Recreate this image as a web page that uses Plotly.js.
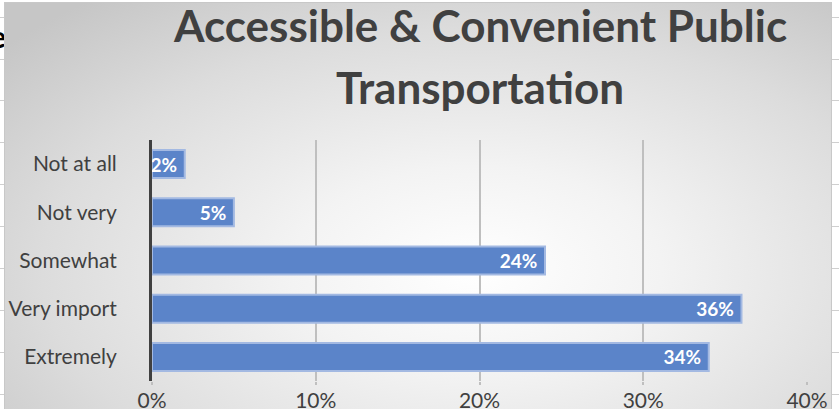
<!DOCTYPE html>
<html>
<head>
<meta charset="utf-8">
<script src="https://cdn.plot.ly/plotly-3.0.1.min.js"></script>
<style>
  html, body { margin: 0; padding: 0; background: #ffffff; }
  #wrap { position: relative; width: 839px; height: 409px; overflow: hidden; background: #ffffff; }
  #panel { position: absolute; left: 4px; top: 2px; width: 826px; height: 430px;
           border: 1px solid #c8c8c8;
           background: radial-gradient(ellipse 75% 80% at 57% 62%, #ffffff 0%, #f3f3f3 30%, #dcdcdc 70%, #c6c6c6 100%); }
  .hl { position: absolute; height: 1px; background: #cfcfcf; }
  #chart { position: absolute; left: 0; top: 0; width: 839px; height: 409px; }
  #cut { position: absolute; left: -10px; top: 18px; font-family: Lato, sans-serif; font-weight: bold; font-size: 30px; color: #000; }
</style>
</head>
<body>
<div id="wrap">
  <span id="cut">e</span>
  <div id="panel"></div>
  <div id="chart"></div>
</div>
<script>
const categories = ["Not at all", "Not very", "Somewhat", "Very import", "Extremely"];
const shares = [0.02, 0.05, 0.24, 0.36, 0.34];
const xTickVals = [0, 0.1, 0.2, 0.3, 0.4];
const xTickText = ["0%", "10%", "20%", "30%", "40%"];
const titleLines = ["Accessible & Convenient Public", "Transportation"];

// spreadsheet row lines outside the chart panel
const wrap = document.getElementById('wrap');
[17, 59, 100, 142, 184, 226, 268, 310, 352, 394].forEach(function (y) {
  [[0, 4], [831, 8]].forEach(function (p) {
    const d = document.createElement('div');
    d.className = 'hl';
    d.style.left = p[0] + 'px'; d.style.width = p[1] + 'px'; d.style.top = y + 'px';
    wrap.insertBefore(d, document.getElementById('panel'));
  });
});

const L = 152, R = 32, T = 140, B = 28, W = 839, H = 409;
const pw = W - L - R, ph = H - T - B;
function py(y) { return (H - B - y) / ph; }

const trace = {
  type: 'bar',
  orientation: 'h',
  y: categories,
  x: shares,
  width: 0.58,
  marker: { color: '#5b84c9', line: { color: '#a3b9e2', width: 2 } },
  texttemplate: '%{x:.0%} ',
  textposition: 'inside',
  insidetextanchor: 'end',
  constraintext: 'none',
  textfont: { family: 'Lato, sans-serif', size: 19, color: '#ffffff', weight: 'bold' },
  hoverinfo: 'skip',
  cliponaxis: false
};

const layout = {
  width: W, height: H,
  margin: { l: L, r: R, t: T, b: B, pad: 0 },
  paper_bgcolor: 'rgba(0,0,0,0)',
  plot_bgcolor: 'rgba(0,0,0,0)',
  showlegend: false,
  font: { family: 'Lato, sans-serif', color: '#404040' },
  xaxis: {
    range: [0, 0.4],
    tickvals: xTickVals, ticktext: xTickText,
    showgrid: true, gridcolor: '#bfbfbf', gridwidth: 2,
    zeroline: false, showline: false,
    ticks: 'outside', ticklen: 3, tickcolor: '#bfbfbf', tickwidth: 2,
    ticklabelstandoff: -2,
    tickfont: { size: 21, color: '#404040' },
    fixedrange: true
  },
  yaxis: {
    type: 'category',
    categoryorder: 'array', categoryarray: categories,
    autorange: 'reversed',
    showgrid: false, zeroline: false,
    showline: true, linecolor: '#404040', linewidth: 3,
    ticks: '', ticklabelstandoff: 28,
    tickfont: { size: 21, color: '#404040' },
    fixedrange: true
  },
  annotations: [
    { xref: 'paper', yref: 'paper', x: 0.5, y: py(25), text: titleLines[0], showarrow: false,
      xanchor: 'center', yanchor: 'middle',
      font: { family: 'Lato, sans-serif', size: 44, weight: 'bold', color: '#404040' } },
    { xref: 'paper', yref: 'paper', x: 0.5, y: py(87), text: titleLines[1], showarrow: false,
      xanchor: 'center', yanchor: 'middle',
      font: { family: 'Lato, sans-serif', size: 44, weight: 'bold', color: '#404040' } }
  ]
};

Plotly.newPlot('chart', [trace], layout, { displayModeBar: false, staticPlot: true });
</script>
</body>
</html>
